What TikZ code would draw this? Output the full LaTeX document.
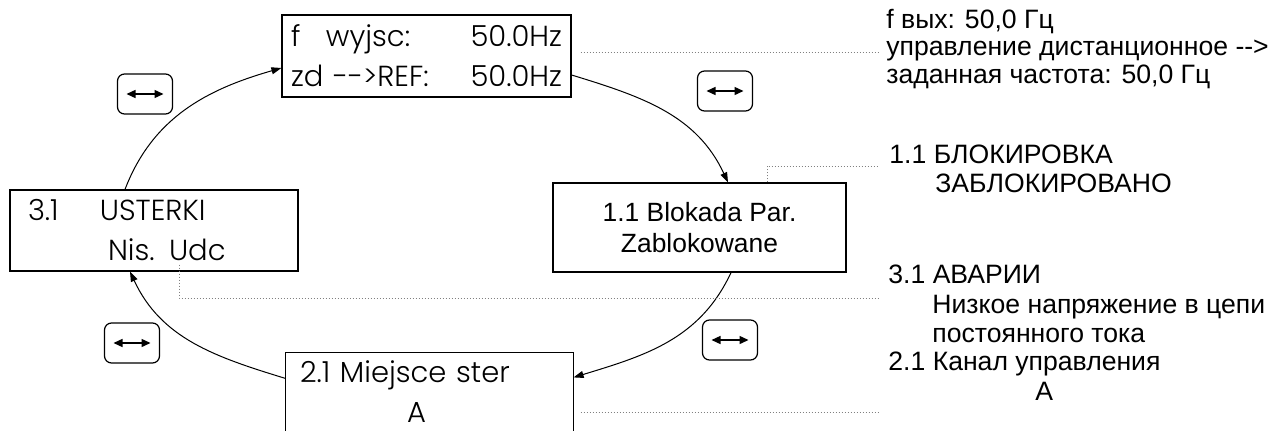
\documentclass[tikz,border=0pt]{standalone}
\usepackage{fontspec}
\setmainfont{Liberation Sans}
\newfontfamily\lcdfont{Poppins}[UprightFont=* Light]
\usetikzlibrary{arrows.meta,positioning}

\tikzset{
  screen/.style={draw, line width=0.6pt, align=left,
    font=\lcdfont\fontsize{14.5}{20}\selectfont},
  panel/.style={draw, line width=0.6pt, align=center,
    font=\fontsize{13.2}{15.5}\selectfont},
  keybox/.style={draw, line width=0.6pt, rounded corners=3.5pt,
    minimum width=27.5pt, minimum height=20pt, inner sep=0pt,
    path picture={\draw[line width=0.7pt,
      {Triangle[length=4.5pt,width=4pt]}-{Triangle[length=4.5pt,width=4pt]}]
      ([xshift=-9.25pt]path picture bounding box.center) --
      ([xshift=9.25pt]path picture bounding box.center);}},
  flow/.style={line width=0.5pt, -{Triangle[length=5pt,width=3.5pt]}},
  leader/.style={densely dotted, line width=0.5pt, gray},
  note/.style={anchor=base west, inner sep=0pt,
    font=\fontsize{13.3}{16}\selectfont},
}

\begin{document}
\begin{tikzpicture}[x=0.5pt,y=0.5pt]
  \useasboundingbox (0,0) rectangle (1274,430);

  % screens of the menu
  \node[screen, text width=135.5pt, inner xsep=4.5pt, minimum height=41pt] (freqscr) at (426.5,374)
    {\makebox[17.5pt][l]{f}wyjsc:\hfill 50.0Hz\\zd -{}->REF:\hfill 50.0Hz};
  \node[panel, minimum width=146.5pt, minimum height=44.5pt] (lockscr) at (699.5,202.5)
    {1.1 Blokada Par.\\Zablokowane};
  % bottom screen runs off the page: no lower edge
  \node[screen, draw=none, text width=129.5pt, inner xsep=7pt, minimum height=38.5pt] (ctrlscr) at (429.5,38.5)
    {2.1 Miejsce ster\\\hspace*{53.5pt}A};
  \draw[line width=0.6pt] (ctrlscr.south west) |- (ctrlscr.north east) -- (ctrlscr.south east);
  \node[screen, text width=126pt, inner xsep=9pt, minimum height=40.5pt] (faultscr) at (154,199.5)
    {\makebox[36pt][l]{3.1}USTERKI\\\hspace*{40pt}Nis. Udc};

  % keys
  \node[keybox] (keyA) at (145,336) {};
  \node[keybox] (keyB) at (725,339) {};
  \node[keybox] (keyC) at (132,87) {};
  \node[keybox] (keyD) at (730,90) {};

  % the loop
  \draw[flow] ([xshift=-14.5pt]faultscr.north) to[out=69,in=196] ([yshift=-6pt]freqscr.west);
  \draw[flow] ([yshift=-9.5pt]freqscr.east) to[out=-17,in=115] ([xshift=14.25pt]lockscr.north);
  \draw[flow] ([xshift=15.75pt]lockscr.south) to[out=-115,in=17] ([yshift=-12.5pt]ctrlscr.north east);
  \draw[flow] ([yshift=-13pt]ctrlscr.north west) to[out=163,in=-65] ([xshift=-12pt]faultscr.south);

  % translations
  \node[note] (fout) at (886,402) {f вых: 50,0 Гц};
  \node[note] (remote) at ([yshift=-13.5pt]fout.base west) {управление дистанционное -{}-{}>};
  \node[note] (setfreq) at ([yshift=-14pt]remote.base west) {заданная частота: 50,0 Гц};
  \node[note] (lock) at (889,267) {1.1 БЛОКИРОВКА};
  \node[note] (locked) at (935,238) {ЗАБЛОКИРОВАНО};
  \node[note] (fault) at (888,147) {3.1 АВАРИИ};
  \node[note] (lowvolt) at (932,117) {Низкое напряжение в цепи};
  \node[note] (dcbus) at ([yshift=-14.5pt]lowvolt.base west) {постоянного тока};
  \node[note] (ctrl) at (888,60) {2.1 Канал управления};
  \node[note] (ctrlA) at (1035,30) {А};

  % leaders
  \coordinate (foutend) at (880,378);
  \coordinate (lockend) at (879,264);
  \coordinate (faultend) at (880,132);
  \coordinate (ctrlend) at (880,18);
  \draw[leader] (freqscr.east |- foutend) ++(4.5pt,0) -- (foutend);
  \draw[leader] ([xshift=33.75pt]lockscr.north) |- (lockend);
  \draw[leader] ([xshift=12.5pt,yshift=3.5pt]faultscr.south) |- (faultend);
  \draw[leader] (ctrlscr.east |- ctrlend) ++(3.5pt,0) -- (ctrlend);
\end{tikzpicture}
\end{document}
